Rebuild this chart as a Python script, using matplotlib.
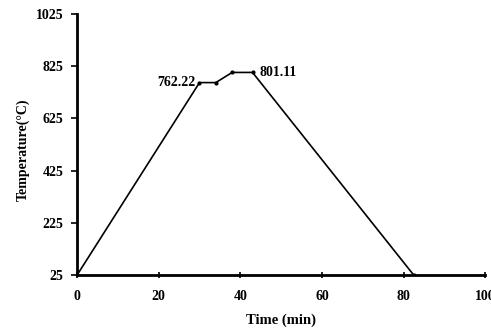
import matplotlib.pyplot as plt

# heat treatment schedule: time (min) vs furnace temperature (°C)
time_min = [0, 30, 34, 38, 43, 82.5]
temp_c = [25, 762.22, 762.22, 801.11, 801.11, 25]

x_ticks = [0, 20, 40, 60, 80, 100]
y_ticks = [25, 225, 425, 625, 825, 1025]

plt.rcParams['font.family'] = ['Liberation Serif', 'DejaVu Serif']
plt.rcParams['font.weight'] = 'bold'

fig = plt.figure(figsize=(4.91, 3.33), dpi=100)
ax = fig.add_axes([0.157, 0.174, 0.831, 0.784])

ax.plot(time_min, temp_c, color='black', lw=1.2, marker='o', ms=2)

ax.annotate(f"{temp_c[1]:.2f}", (time_min[1], temp_c[1]), xytext=(-3, 0),
            textcoords='offset points', ha='right', va='center',
            fontsize=10, fontweight='bold')
ax.annotate(f"{temp_c[3]:.2f}", (time_min[4], temp_c[4]), xytext=(5, 0),
            textcoords='offset points', ha='left', va='center',
            fontsize=10, fontweight='bold')

ax.set_xlim(0, 100)
ax.set_ylim(25, 1025)
ax.set_xticks(x_ticks)
ax.set_yticks(y_ticks)
ax.tick_params(axis='x', direction='inout', length=5, width=1.2, labelsize=10, pad=8)
ax.tick_params(axis='y', direction='out', length=4, width=1.2, labelsize=10, pad=6)
for lab in ax.get_xticklabels() + ax.get_yticklabels():
    lab.set_fontweight('bold')

for side in ['top', 'right']:
    ax.spines[side].set_visible(False)
for side in ['left', 'bottom']:
    ax.spines[side].set_linewidth(2)

ax.set_xlabel("Time (min)", fontsize=10.5, fontweight='bold', labelpad=8)
ax.set_ylabel("Temperature(°C)", fontsize=10, fontweight='bold')
ax.yaxis.set_label_coords(-0.115, 0.48)

fig.savefig('out.png', dpi=100)
